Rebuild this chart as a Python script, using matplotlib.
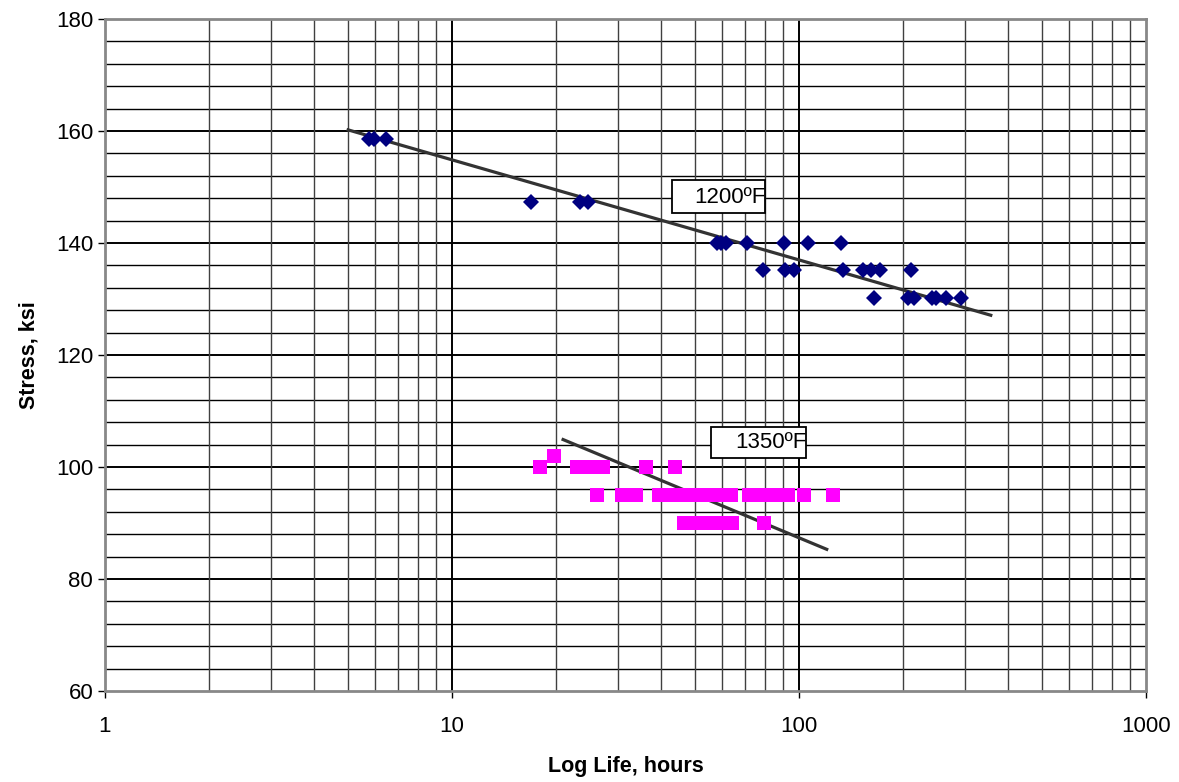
import matplotlib.pyplot as plt
import numpy as np
from matplotlib.patches import Rectangle
from matplotlib.ticker import FixedLocator, NullFormatter

plt.rcParams['font.family'] = ['Liberation Sans', 'DejaVu Sans']

# rupture life (hours) and stress (ksi), 1200F
life_1200 = [5.75, 5.94, 6.45, 16.9, 23.4, 24.7,
             58.1, 59.4, 61.7, 70.6, 90.3, 106.4, 131.8,
             78.9, 90.9, 96.7, 134.2, 152.8, 161.6, 171.1, 209.9,
             164.5, 206.2, 214.5, 242.3, 247.8, 264.8, 293.9]
stress_1200 = [158.6, 158.6, 158.6, 147.3, 147.3, 147.3,
               140, 140, 140, 140, 140, 140, 140,
               135.2, 135.2, 135.2, 135.2, 135.2, 135.2, 135.2, 135.2,
               130.1, 130.1, 130.1, 130.1, 130.1, 130.1, 130.1]

# 1350F
life_1350 = [17.9, 22.9, 23.8, 26.1, 27.2, 36.2, 43.8,
             19.7,
             26.1, 30.8, 32.3, 33.9, 39.4, 42.6, 46.2, 50.0, 54.1, 58.6, 63.5,
             71.6, 78.0, 85.0, 92.7, 103.1, 125.0,
             46.5, 50.7, 55.3, 59.8, 64.3, 79.1]
stress_1350 = [100, 100, 100, 100, 100, 100, 100,
               102,
               95, 95, 95, 95, 95, 95, 95, 95, 95, 95, 95,
               95, 95, 95, 95, 95, 95,
               90, 90, 90, 90, 90, 90]

# trendline end points
trend_1200_x = [5.02, 357]
trend_1200_y = [160.2, 127.1]
trend_1350_x = [20.9, 120.2]
trend_1350_y = [104.9, 85.3]

fig = plt.figure(figsize=(11.79, 7.82), dpi=100)
ax = fig.add_axes([105 / 1179, 1 - 691 / 782, 1041 / 1179, 672 / 782])

ax.set_xscale('log')
ax.set_xlim(1, 1000)
ax.set_ylim(60, 180)

# grid
for v in np.arange(64, 180, 4):
    ax.axhline(v, color='black', lw=1.0 if v % 20 else 1.4, zorder=1)
for dec in [1, 10, 100]:
    for k in range(2, 10):
        ax.axvline(dec * k, color='#404040', lw=1.0, zorder=1)
for v in [10, 100]:
    ax.axvline(v, color='black', lw=1.4, zorder=1)

ax.plot(trend_1200_x, trend_1200_y, color='#333333', lw=2.3, zorder=3)
ax.plot(trend_1350_x, trend_1350_y, color='#333333', lw=2.3, zorder=3)

ax.plot(life_1200, stress_1200, 'D', color='#000080', ms=8.5, mew=0, zorder=4)
ax.plot(life_1350, stress_1350, 's', color='#FF00FF', ms=10, mew=0, zorder=4)

# labels in boxes
ax.add_patch(Rectangle((43.1, 145.4), 79.7 - 43.1, 151.25 - 145.4,
                       facecolor='white', edgecolor='black', lw=1.3, zorder=5))
ax.text(80.2, 148.2, '1200ºF', ha='right', va='center', fontsize=16, zorder=6)
ax.add_patch(Rectangle((55.8, 101.55), 104.7 - 55.8, 107.1 - 101.55,
                       facecolor='white', edgecolor='black', lw=1.3, zorder=5))
ax.text(105.3, 104.3, '1350ºF', ha='right', va='center', fontsize=16, zorder=6)

ax.set_yticks(np.arange(60, 181, 20))
ax.xaxis.set_major_locator(FixedLocator([1, 10, 100, 1000]))
ax.set_xticklabels(['1', '10', '100', '1000'])
ax.xaxis.set_minor_formatter(NullFormatter())
ax.tick_params(axis='x', which='minor', length=0)
ax.tick_params(axis='both', which='major', labelsize=16, length=5, width=1)
ax.tick_params(axis='x', which='major', pad=13)

for s in ax.spines.values():
    s.set_color('#888888')
    s.set_linewidth(2)

ax.set_xlabel('Log Life, hours', fontsize=15.5, fontweight='bold', labelpad=14)
ax.set_ylabel('Stress, ksi', fontsize=15.5, fontweight='bold', labelpad=12)

fig.savefig('out.png', dpi=100)
